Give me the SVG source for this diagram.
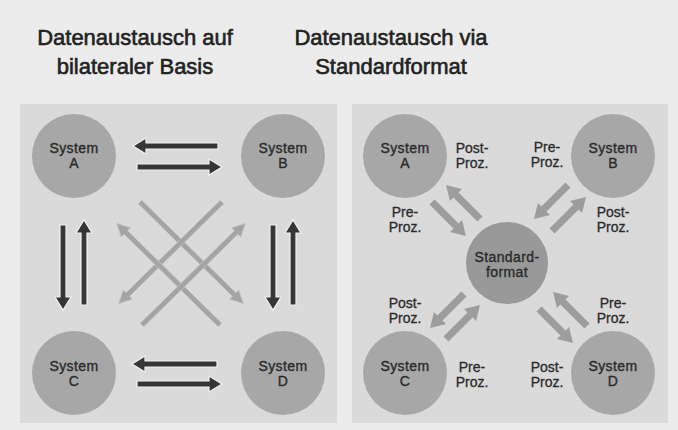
<svg xmlns="http://www.w3.org/2000/svg" width="678" height="430" viewBox="0 0 678 430">
  <style>
    .title { font-family: "Liberation Sans", Arial, sans-serif; font-size: 22px; fill: #222; text-anchor: middle; stroke: #222; stroke-width: 0.6; }
    .node-label { font-family: "Liberation Sans", Arial, sans-serif; font-size: 14px; letter-spacing: 0.4px; fill: #2a2a2a; text-anchor: middle; stroke: #2a2a2a; stroke-width: 0.35; }
    .proc { font-family: "Liberation Sans", Arial, sans-serif; font-size: 14px; fill: #2a2a2a; text-anchor: middle; stroke: #2a2a2a; stroke-width: 0.3; }
    .panel { fill: #dadada; }
    .sys { fill: #a7a7a7; }
    .std { fill: #999999; }
    .dark { fill: #363636; stroke: #f2f2f2; stroke-width: 1.2; }
    .light { fill: #a4a4a4; stroke: #c4c4c4; stroke-width: 0.8; }
    .mid { fill: #9d9d9d; }
  </style>
  <defs>
    <!-- arrow shapes, all pointing right from the origin -->
    <path id="dark-arrow" d="M0,-3 H72 V-8 L85,0 L72,8 V3 H0 Z"/>
    <path id="light-arrow" d="M0,-2.5 H132 V-6.5 L145,0 L132,6.5 V2.5 H0 Z"/>
    <path id="mid-arrow" d="M0,-3.6 H34 V-8.5 L48,0 L34,8.5 V3.6 H0 Z"/>
  </defs>

  <!-- page background -->
  <rect x="0" y="0" width="678" height="430" fill="#ececec"/>

  <!-- titles -->
  <text class="title" x="135" y="45">Datenaustausch auf</text>
  <text class="title" x="135" y="74">bilateraler Basis</text>
  <text class="title" x="391" y="45">Datenaustausch via</text>
  <text class="title" x="391" y="74">Standardformat</text>

  <!-- panels -->
  <rect class="panel" x="20" y="104" width="317" height="319"/>
  <rect class="panel" x="352" y="104" width="316" height="319"/>

  <!-- connectors -->
  <g id="connectors">
    <!-- bilateral: horizontal pairs -->
    <use href="#dark-arrow" class="dark" transform="translate(218,146) rotate(180)"/>
    <use href="#dark-arrow" class="dark" transform="translate(137,167)"/>
    <use href="#dark-arrow" class="dark" transform="translate(217,364) rotate(180)"/>
    <use href="#dark-arrow" class="dark" transform="translate(137,384)"/>
    <!-- bilateral: vertical pairs -->
    <use href="#dark-arrow" class="dark" transform="translate(63,225) rotate(90)"/>
    <use href="#dark-arrow" class="dark" transform="translate(84,305) rotate(-90)"/>
    <use href="#dark-arrow" class="dark" transform="translate(273,225) rotate(90)"/>
    <use href="#dark-arrow" class="dark" transform="translate(293,305) rotate(-90)"/>
    <!-- bilateral: diagonal crossings -->
    <use href="#light-arrow" class="light" transform="translate(140,202) rotate(44.5)"/>
    <use href="#light-arrow" class="light" transform="translate(222,202) rotate(135.5)"/>
    <use href="#light-arrow" class="light" transform="translate(220,325) rotate(-135.5)"/>
    <use href="#light-arrow" class="light" transform="translate(142,325) rotate(-44.5)"/>

    <!-- standard format: A -->
    <use href="#mid-arrow" class="mid" transform="translate(480,219) rotate(-135)"/>
    <use href="#mid-arrow" class="mid" transform="translate(432,202) rotate(45)"/>
    <!-- standard format: B -->
    <use href="#mid-arrow" class="mid" transform="translate(568,185) rotate(135)"/>
    <use href="#mid-arrow" class="mid" transform="translate(552,231) rotate(-45)"/>
    <!-- standard format: C -->
    <use href="#mid-arrow" class="mid" transform="translate(464,294) rotate(135)"/>
    <use href="#mid-arrow" class="mid" transform="translate(446,339) rotate(-45)"/>
    <!-- standard format: D -->
    <use href="#mid-arrow" class="mid" transform="translate(587,326) rotate(-135)"/>
    <use href="#mid-arrow" class="mid" transform="translate(539,309) rotate(45)"/>
  </g>

  <!-- bilateral nodes -->
  <g id="bi-system-a">
    <circle class="sys" cx="74" cy="156" r="42"/>
    <text class="node-label" x="74" y="153">System</text>
    <text class="node-label" x="74" y="168">A</text>
  </g>
  <g id="bi-system-b">
    <circle class="sys" cx="283" cy="156" r="42"/>
    <text class="node-label" x="283" y="153">System</text>
    <text class="node-label" x="283" y="168">B</text>
  </g>
  <g id="bi-system-c">
    <circle class="sys" cx="74" cy="373" r="42"/>
    <text class="node-label" x="74" y="371">System</text>
    <text class="node-label" x="74" y="386">C</text>
  </g>
  <g id="bi-system-d">
    <circle class="sys" cx="283" cy="373" r="42"/>
    <text class="node-label" x="283" y="371">System</text>
    <text class="node-label" x="283" y="386">D</text>
  </g>

  <!-- standard format nodes -->
  <g id="std-system-a">
    <circle class="sys" cx="405" cy="156" r="42"/>
    <text class="node-label" x="405" y="153">System</text>
    <text class="node-label" x="405" y="168">A</text>
  </g>
  <g id="std-system-b">
    <circle class="sys" cx="613" cy="156" r="42"/>
    <text class="node-label" x="613" y="153">System</text>
    <text class="node-label" x="613" y="168">B</text>
  </g>
  <g id="std-format">
    <circle class="std" cx="507" cy="263" r="41"/>
    <text class="node-label" x="507" y="262">Standard-</text>
    <text class="node-label" x="507" y="277">format</text>
  </g>
  <g id="std-system-c">
    <circle class="sys" cx="405" cy="373" r="42"/>
    <text class="node-label" x="405" y="371">System</text>
    <text class="node-label" x="405" y="386">C</text>
  </g>
  <g id="std-system-d">
    <circle class="sys" cx="613" cy="373" r="42"/>
    <text class="node-label" x="613" y="371">System</text>
    <text class="node-label" x="613" y="386">D</text>
  </g>

  <!-- processing labels -->
  <g id="proc-labels">
    <text class="proc" x="472" y="153">Post-</text>
    <text class="proc" x="472" y="168">Proz.</text>
    <text class="proc" x="547" y="152">Pre-</text>
    <text class="proc" x="547" y="167">Proz.</text>
    <text class="proc" x="405" y="217">Pre-</text>
    <text class="proc" x="405" y="232">Proz.</text>
    <text class="proc" x="613" y="217">Post-</text>
    <text class="proc" x="613" y="232">Proz.</text>
    <text class="proc" x="405" y="308">Post-</text>
    <text class="proc" x="405" y="323">Proz.</text>
    <text class="proc" x="613" y="308">Pre-</text>
    <text class="proc" x="613" y="323">Proz.</text>
    <text class="proc" x="472" y="372">Pre-</text>
    <text class="proc" x="472" y="387">Proz.</text>
    <text class="proc" x="547" y="372">Post-</text>
    <text class="proc" x="547" y="387">Proz.</text>
  </g>
</svg>
